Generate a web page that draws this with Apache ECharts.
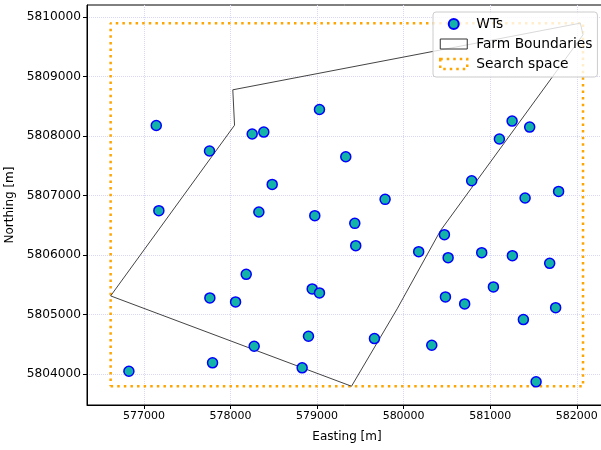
<!DOCTYPE html>
<html>
<head>
<meta charset="utf-8">
<script src="https://cdn.jsdelivr.net/npm/echarts@6/dist/echarts.min.js"></script>
<style>html,body{margin:0;padding:0;background:#fff}#c{width:601px;height:450px}</style>
</head>
<body>
<div id="c"></div>
<script>
// Wind turbine positions
const wtEast = [577143, 577758, 578251, 578385, 578482, 577173, 578328,
  579028, 579332, 579786, 578974, 579436, 580786, 581106, 581253, 581456, 581403, 581790,
  576827, 577762, 578059, 578182, 578274, 577793, 578828,
  580471, 579447, 580174, 580514, 580902, 581256, 581687, 578944, 579028, 581037,
  580483, 580705, 581756, 581383, 578901, 579663, 580325, 581530];
const wtNorth = [5808176, 5807747, 5808032, 5808065, 5807186, 5806745, 5806723,
  5808445, 5807651, 5806935, 5806661, 5806532, 5807248, 5807948, 5808250, 5808149, 5806958, 5807069,
  5804049, 5805280, 5805213, 5805676, 5804468, 5804190, 5804106,
  5806342, 5806158, 5806057, 5805956, 5806040, 5805990, 5805861, 5805431, 5805364, 5805465,
  5805297, 5805180, 5805117, 5804916, 5804636, 5804597, 5804485, 5803871];
// Farm boundary polygon vertices
const boundaryEast = [576616, 579398, 579925, 580425, 582072, 582041, 578027, 578047, 576616];
const boundaryNorth = [5805314, 5803797, 5805096, 5806409, 5809698, 5809894, 5808775, 5808180, 5805314];
// Search space extent
const searchEast = [576616, 582072];
const searchNorth = [5803797, 5809894];
// Axis ranges and ticks
const xRange = [576343, 582349];
const yRange = [5803482, 5810199];
const xTicks = [577000, 578000, 579000, 580000, 581000, 582000];
const yTicks = [5804000, 5805000, 5806000, 5807000, 5808000, 5809000, 5810000];

const FONT = 'DejaVu Sans';
const wtData = wtEast.map((e, i) => [e, wtNorth[i]]);
const bData = boundaryEast.map((e, i) => [e, boundaryNorth[i]]);
const sData = [
  [searchEast[0], searchNorth[0]], [searchEast[1], searchNorth[0]],
  [searchEast[1], searchNorth[1]], [searchEast[0], searchNorth[1]],
  [searchEast[0], searchNorth[0]]
];

const chart = echarts.init(document.getElementById('c'), null, {renderer: 'canvas'});
chart.setOption({
  animation: false,
  backgroundColor: '#fff',
  grid: {left: 87, top: 5, width: 520, height: 400, show: true, borderColor: '#000', borderWidth: 1,
    backgroundColor: 'transparent', containLabel: false, outerBoundsMode: 'none'},
  xAxis: {
    type: 'value', min: xRange[0], max: xRange[1], splitNumber: 6,
    name: 'Easting [m]', nameLocation: 'middle', nameGap: 26,
    nameTextStyle: {fontFamily: FONT, fontSize: 12, color: '#000'},
    axisLine: {show: true, onZero: false, lineStyle: {color: '#000', width: 1}},
    axisTick: {show: true, length: 4, lineStyle: {color: '#000'}, customValues: xTicks},
    axisLabel: {fontFamily: FONT, fontSize: 11, color: '#000', margin: 6, customValues: xTicks, formatter: v => String(v)},
    splitLine: {show: true, lineStyle: {color: '#d8d8f6', type: 'dotted', width: 1}}
  },
  yAxis: {
    type: 'value', min: yRange[0], max: yRange[1], splitNumber: 7,
    name: 'Northing [m]', nameLocation: 'middle', nameGap: 69, nameRotate: 90,
    nameTextStyle: {fontFamily: FONT, fontSize: 12, color: '#000'},
    axisLine: {show: true, onZero: false, lineStyle: {color: '#000', width: 1}},
    axisTick: {show: true, length: 4, lineStyle: {color: '#000'}, customValues: yTicks},
    axisLabel: {fontFamily: FONT, fontSize: 12.2, color: '#000', margin: 6, customValues: yTicks, formatter: v => String(v)},
    splitLine: {show: true, lineStyle: {color: '#d8d8f6', type: 'dotted', width: 1}}
  },
  legend: {
    orient: 'vertical', left: 433, top: 12,
    padding: [5, 5, 6, 6], itemGap: 6, itemWidth: 27, itemHeight: 10,
    backgroundColor: 'rgba(255,255,255,0.8)', borderColor: '#cccccc', borderWidth: 1, borderRadius: 3,
    textStyle: {fontFamily: FONT, fontSize: 13.8, color: '#000', lineHeight: 14, padding: [0, 0, 0, 4]},
    data: [
      {name: 'WTs', icon: 'circle'},
      {name: 'Farm Boundaries', icon: 'rect', itemStyle: {color: 'transparent', borderColor: '#333', borderWidth: 1}},
      {name: 'Search space', icon: 'rect', itemStyle: {color: 'transparent', borderColor: '#ffa500', borderWidth: 2.5, borderType: [2.5, 4]}}
    ]
  },
  series: [
    {
      name: 'Search space', type: 'line', data: sData, symbol: 'none', z: 2,
      lineStyle: {color: '#ffa500', width: 2.5, type: [2.5, 4.1], cap: 'butt'},
      itemStyle: {color: '#ffa500'}
    },
    {
      name: 'Farm Boundaries', type: 'line', data: bData, symbol: 'none', z: 3,
      lineStyle: {color: '#444', width: 1},
      itemStyle: {color: '#444'}
    },
    {
      name: 'WTs', type: 'scatter', data: wtData, symbol: 'circle', symbolSize: 10, z: 5,
      itemStyle: {color: '#14b3a8', borderColor: '#0000ff', borderWidth: 1.5, opacity: 1}
    }
  ]
});
</script>
</body>
</html>
